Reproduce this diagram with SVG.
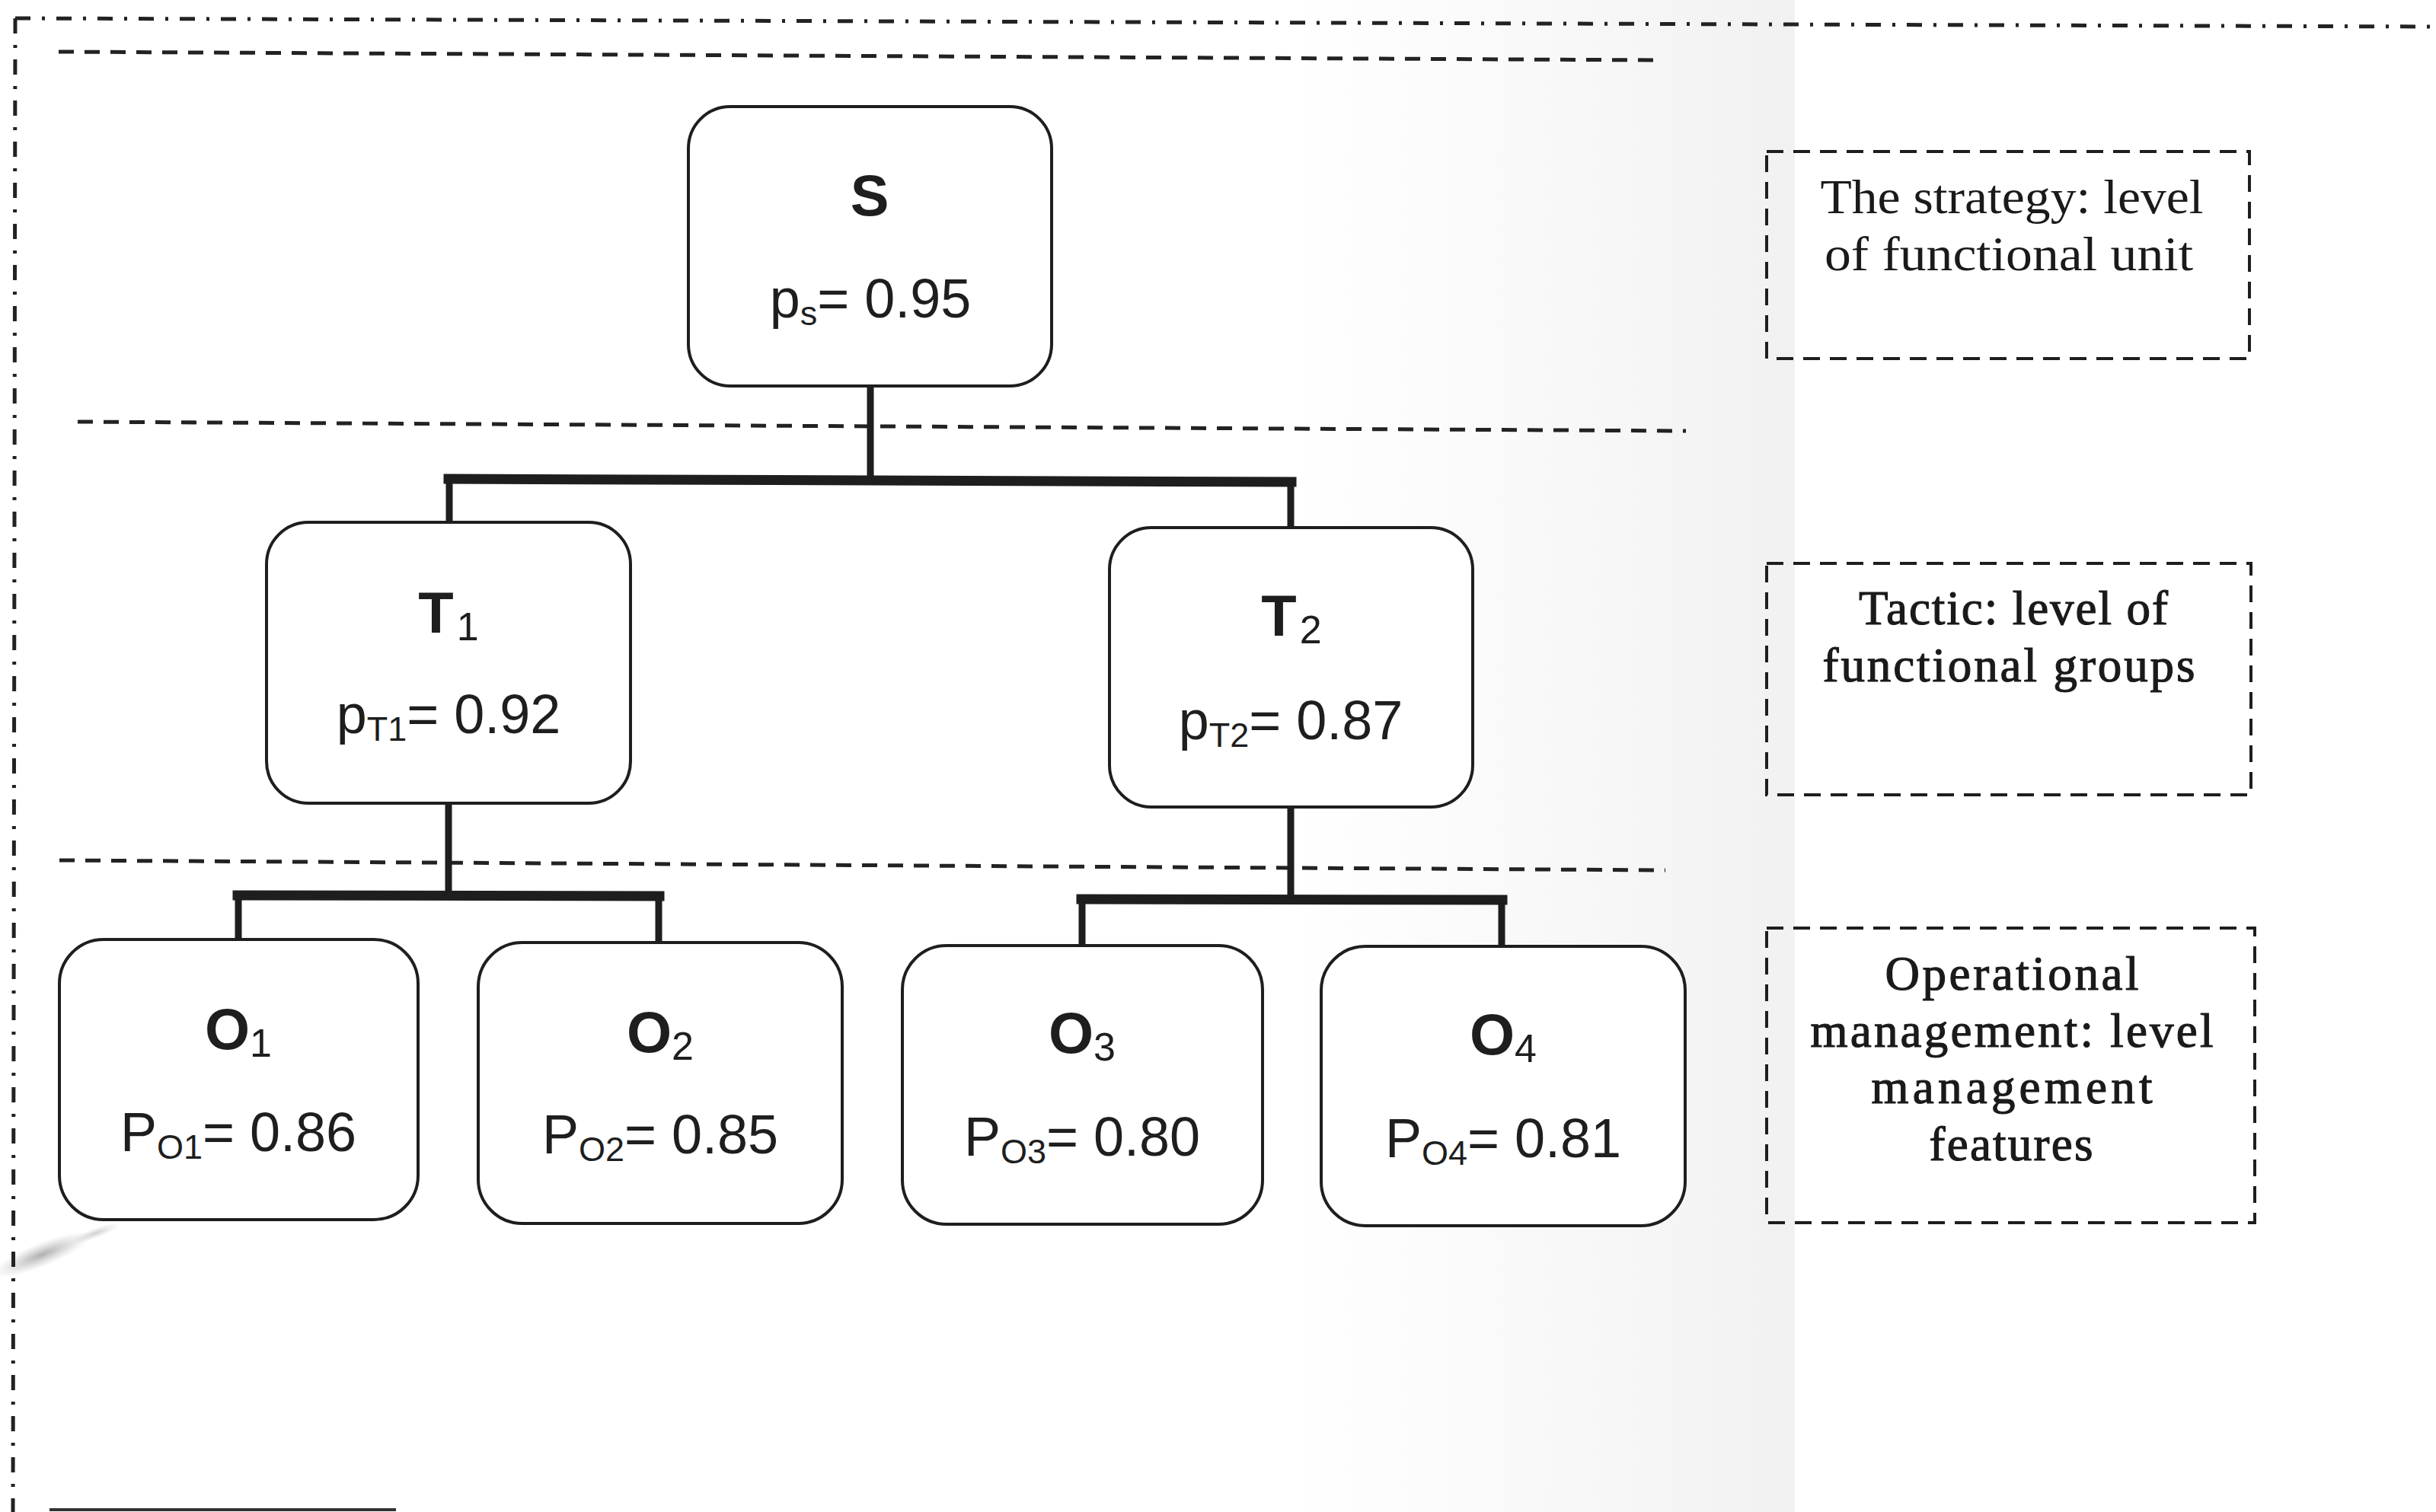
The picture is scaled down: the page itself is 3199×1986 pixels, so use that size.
<svg xmlns="http://www.w3.org/2000/svg" width="3199" height="1986" viewBox="0 0 3199 1986">
<defs>
<style>
.node rect{fill:#ffffff;stroke:#1e1e1e;stroke-width:4}
.lbl{font-family:"Liberation Sans",Arial,sans-serif;font-weight:bold;font-size:76px;fill:#1e1e1e;text-anchor:middle}
.lbl .sub{font-weight:normal;font-size:52px}
.val{font-family:"Liberation Sans",Arial,sans-serif;font-size:72px;fill:#1e1e1e;text-anchor:middle}
.val .sub{font-size:45px}
.sep{fill:none;stroke:#222;stroke-width:5;stroke-dasharray:20 14}
.frame{fill:none;stroke:#222;stroke-width:5;stroke-dasharray:20 15 4 15}
.legend rect{fill:none;stroke:#1e1e1e;stroke-width:4;stroke-dasharray:22 13}
.legend text{font-family:"Liberation Serif","Times New Roman",serif;font-size:63px;fill:#1a1a1a;text-anchor:middle}
.legend .heavy{stroke:#1a1a1a;stroke-width:1.2}
.bar{fill:none;stroke:#1e1e1e;stroke-width:13;stroke-linecap:square}
.stem{fill:none;stroke:#1e1e1e;stroke-width:9}
</style>
<linearGradient id="shade" x1="0" y1="0" x2="1" y2="0">
<stop offset="0" stop-color="#ffffff"/>
<stop offset="0.55" stop-color="#f8f8f8"/>
<stop offset="1" stop-color="#f1f1f1"/>
</linearGradient>
<radialGradient id="smudge" cx="0.5" cy="0.5" r="0.5">
<stop offset="0" stop-color="#9a9a9a" stop-opacity="0.8"/>
<stop offset="1" stop-color="#bbbbbb" stop-opacity="0"/>
</radialGradient>
</defs>
<rect x="0" y="0" width="3199" height="1986" fill="#ffffff"/>
<rect x="1700" y="0" width="657" height="1986" fill="url(#shade)"/>
<ellipse cx="55" cy="1648" rx="70" ry="16" transform="rotate(-22 55 1648)" fill="url(#smudge)"/>
<ellipse cx="125" cy="1620" rx="35" ry="7" transform="rotate(-20 125 1620)" fill="url(#smudge)" opacity="0.6"/>

<g id="frame">
<path class="frame" d="M20 24 L3199 35"/>
<path class="frame" d="M20 24 L17 1986"/>
<path d="M65 1983 L520 1983" stroke="#333" stroke-width="4" fill="none"/>
</g>

<g id="level-separators">
<path class="sep" d="M77 68 L2182 79"/>
<path class="sep" d="M102 554 L2214 566"/>
<path class="sep" d="M78 1130 L2187 1143"/>
</g>

<g id="connectors">
<path class="stem" d="M1143 506 L1143 628"/>
<path class="bar" d="M589 629 L1696 633"/>
<path class="stem" d="M590 629 L590 688"/>
<path class="stem" d="M1695 633 L1695 695"/>
<path class="stem" d="M589 1055 L589 1176"/>
<path class="bar" d="M312 1176 L866 1177"/>
<path class="stem" d="M313 1176 L313 1236"/>
<path class="stem" d="M865 1177 L865 1240"/>
<path class="stem" d="M1695 1060 L1695 1181"/>
<path class="bar" d="M1420 1181 L1973 1182"/>
<path class="stem" d="M1421 1181 L1421 1244"/>
<path class="stem" d="M1972 1182 L1972 1245"/>
</g>

<g id="node-S" class="node">
<rect x="904" y="140" width="477" height="367" rx="55"/>
<text class="lbl" x="1142" y="283">S</text>
<text class="val" x="1143" y="417">p<tspan class="sub" dy="10">s</tspan><tspan dy="-10">= 0.95</tspan></text>
</g>

<g id="node-T1" class="node">
<rect x="350" y="686" width="478" height="369" rx="55"/>
<text class="lbl" x="589" y="831">T<tspan class="sub" dx="4" dy="10">1</tspan></text>
<text class="val" x="589" y="963">p<tspan class="sub" dy="10">T1</tspan><tspan dy="-10">= 0.92</tspan></text>
</g>

<g id="node-T2" class="node">
<rect x="1457" y="693" width="477" height="367" rx="55"/>
<text class="lbl" x="1696" y="835">T<tspan class="sub" dx="4" dy="10">2</tspan></text>
<text class="val" x="1695" y="971">p<tspan class="sub" dy="10">T2</tspan><tspan dy="-10">= 0.87</tspan></text>
</g>

<g id="node-O1" class="node">
<rect x="78" y="1234" width="471" height="368" rx="58"/>
<text class="lbl" x="313" y="1378">O<tspan class="sub" dy="10">1</tspan></text>
<text class="val" x="313" y="1512">P<tspan class="sub" dy="10">O1</tspan><tspan dy="-10">= 0.86</tspan></text>
</g>

<g id="node-O2" class="node">
<rect x="628" y="1238" width="478" height="369" rx="58"/>
<text class="lbl" x="867" y="1382">O<tspan class="sub" dy="10">2</tspan></text>
<text class="val" x="867" y="1515">P<tspan class="sub" dy="10">O2</tspan><tspan dy="-10">= 0.85</tspan></text>
</g>

<g id="node-O3" class="node">
<rect x="1185" y="1242" width="473" height="366" rx="58"/>
<text class="lbl" x="1421" y="1383">O<tspan class="sub" dy="10">3</tspan></text>
<text class="val" x="1421" y="1518">P<tspan class="sub" dy="10">O3</tspan><tspan dy="-10">= 0.80</tspan></text>
</g>

<g id="node-O4" class="node">
<rect x="1735" y="1243" width="478" height="367" rx="58"/>
<text class="lbl" x="1974" y="1385">O<tspan class="sub" dy="10">4</tspan></text>
<text class="val" x="1974" y="1520">P<tspan class="sub" dy="10">O4</tspan><tspan dy="-10">= 0.81</tspan></text>
</g>

<g id="legend-strategy" class="legend">
<rect x="2320" y="199" width="634" height="272"/>
<text x="2642" y="280" textLength="503" lengthAdjust="spacingAndGlyphs">The strategy: level</text>
<text x="2638" y="355" textLength="484" lengthAdjust="spacingAndGlyphs">of functional unit</text>
</g>

<g id="legend-tactic" class="legend">
<rect x="2320" y="740" width="636" height="304"/>
<text class="heavy" x="2644" y="820" textLength="406" lengthAdjust="spacing">Tactic: level of</text>
<text class="heavy" x="2638" y="895" textLength="489" lengthAdjust="spacing">functional groups</text>
</g>

<g id="legend-operational" class="legend">
<rect x="2320" y="1219" width="641" height="387"/>
<text class="heavy" x="2642" y="1300" textLength="333" lengthAdjust="spacing">Operational</text>
<text class="heavy" x="2642" y="1375" textLength="529" lengthAdjust="spacing">management: level</text>
<text class="heavy" x="2642" y="1449" textLength="369" lengthAdjust="spacing">management</text>
<text class="heavy" x="2641" y="1524" textLength="215" lengthAdjust="spacing">features</text>
</g>
</svg>
